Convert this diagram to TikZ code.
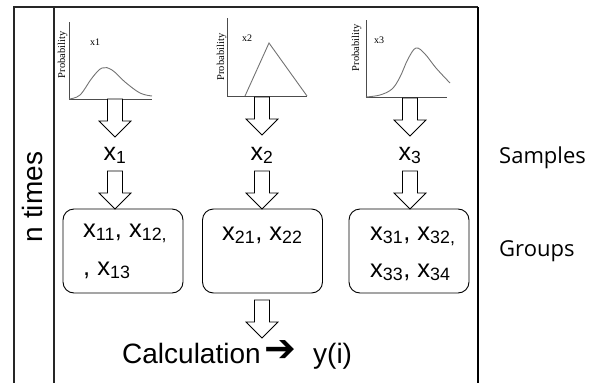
\documentclass[tikz,border=0pt]{standalone}
\usepackage{fontspec}
\setmainfont{Liberation Sans}
\newfontfamily\serifs{Liberation Serif}
\newfontfamily\labelfont{Open Sans}
\newfontfamily\symfont{DejaVu Sans}
\begin{document}
\begin{tikzpicture}[x=1pt,y=-1pt,
  frameline/.style={line width=2pt,draw=black!85},
  axisline/.style={line width=0.8pt,draw=black!70},
  curveline/.style={line width=0.9pt,draw=black!55},
  probtext/.style={font=\fontsize{10.5}{12}\serifs,rotate=90,anchor=base,inner sep=0pt},
  vartext/.style={font=\fontsize{10}{12}\serifs,inner sep=0pt},
  sampletext/.style={font=\fontsize{25}{28}\selectfont,anchor=base,inner sep=0pt},
  grouptext/.style={font=\fontsize{25.5}{28}\selectfont,anchor=base west,inner sep=0pt},
  groupbox/.style={draw,line width=0.9pt,rounded corners=11pt,minimum width=120pt,minimum height=84pt,inner sep=0pt},
  sidetext/.style={font=\fontsize{22}{26}\labelfont,anchor=base west,inner sep=0pt},
  calctext/.style={font=\fontsize{28}{32}\selectfont,anchor=base west,inner sep=0pt},
  blockarrow/.pic={\draw[line width=0.8pt,fill=white] (-7.5,0) -- (7.5,0) -- (7.5,22) -- (16,22) -- (0,38) -- (-16,22) -- (-7.5,22) -- cycle;}
]
\useasboundingbox (0,0) rectangle (600,383);
% frame
\draw[frameline] (13.5,383) -- (13.5,7) -- (478,7);
\draw[frameline] (53.5,7) -- (53.5,383);
\draw[line width=1.6pt] (478,7) -- (478,383);
\node[font=\fontsize{28}{32}\selectfont,rotate=90,anchor=base,inner sep=0pt] (ntimes) at (42,197) {n times};

% plot 1
\draw[axisline] (69,22) -- (69,99) -- (152,99);
\draw[curveline] plot[smooth,tension=0.6] coordinates {(69,99) (80,95) (92,78) (102,68) (112,70) (125,82) (140,93) (152,96)};
\node[probtext] (p1) at (65,55) {Probability};
\node[vartext] (v1) at (95,42) {x1};
% plot 2
\draw[axisline] (227,18) -- (227,96) -- (307,96);
\draw[curveline] (245,96) -- (269,43) -- (307,96);
\node[probtext] (p2) at (224,57) {Probability};
\node[vartext] (v2) at (247,38) {x2};
% plot 3
\draw[axisline] (366,20) -- (366,97) -- (447,97);
\draw[curveline] plot[smooth,tension=0.6] coordinates {(366,97) (380,95) (392,89) (400,77) (408,59) (416,48) (425,54) (436,68) (450,83)};
\node[probtext] (p3) at (359,48) {Probability};
\node[vartext] (v3) at (379,40) {x3};

% arrows plot -> samples
\pic at (115,99) {blockarrow};
\pic at (262,97) {blockarrow};
\pic at (410,98) {blockarrow};

% samples
\node[sampletext] (s1) at (115,160) {x\textsubscript{1}};
\node[sampletext] (s2) at (262,160) {x\textsubscript{2}};
\node[sampletext] (s3) at (410,160) {x\textsubscript{3}};

% arrows samples -> groups
\pic at (115,171) {blockarrow};
\pic at (262,171) {blockarrow};
\pic at (410,171) {blockarrow};

% group boxes
\node[groupbox] (g1) at (123,251) {};
\node[groupbox] (g2) at (262.5,251) {};
\node[groupbox] (g3) at (409,251) {};
\node[grouptext] (t11) at (83,237) {x\textsubscript{11}, x\textsubscript{12,}};
\node[grouptext] (t12) at (83,275) {, x\textsubscript{13}};
\node[grouptext] (t21) at (222,240) {x\textsubscript{21}, x\textsubscript{22}};
\node[grouptext] (t31) at (370,240) {x\textsubscript{31}, x\textsubscript{32,}};
\node[grouptext] (t32) at (370,277) {x\textsubscript{33}, x\textsubscript{34}};

% calculation
\pic at (262,300) {blockarrow};
\node[calctext] (calc) at (122,363) {Calculation};
\node[font=\fontsize{38}{44}\symfont,anchor=base west,inner sep=0pt] (calcarrow) at (264,361) {➔};
\node[calctext] (yi) at (313,363) {y(i)};

% side labels
\node[sidetext] (samples) at (499,163) {Samples};
\node[sidetext] (groups) at (499,256) {Groups};
\end{tikzpicture}
\end{document}
